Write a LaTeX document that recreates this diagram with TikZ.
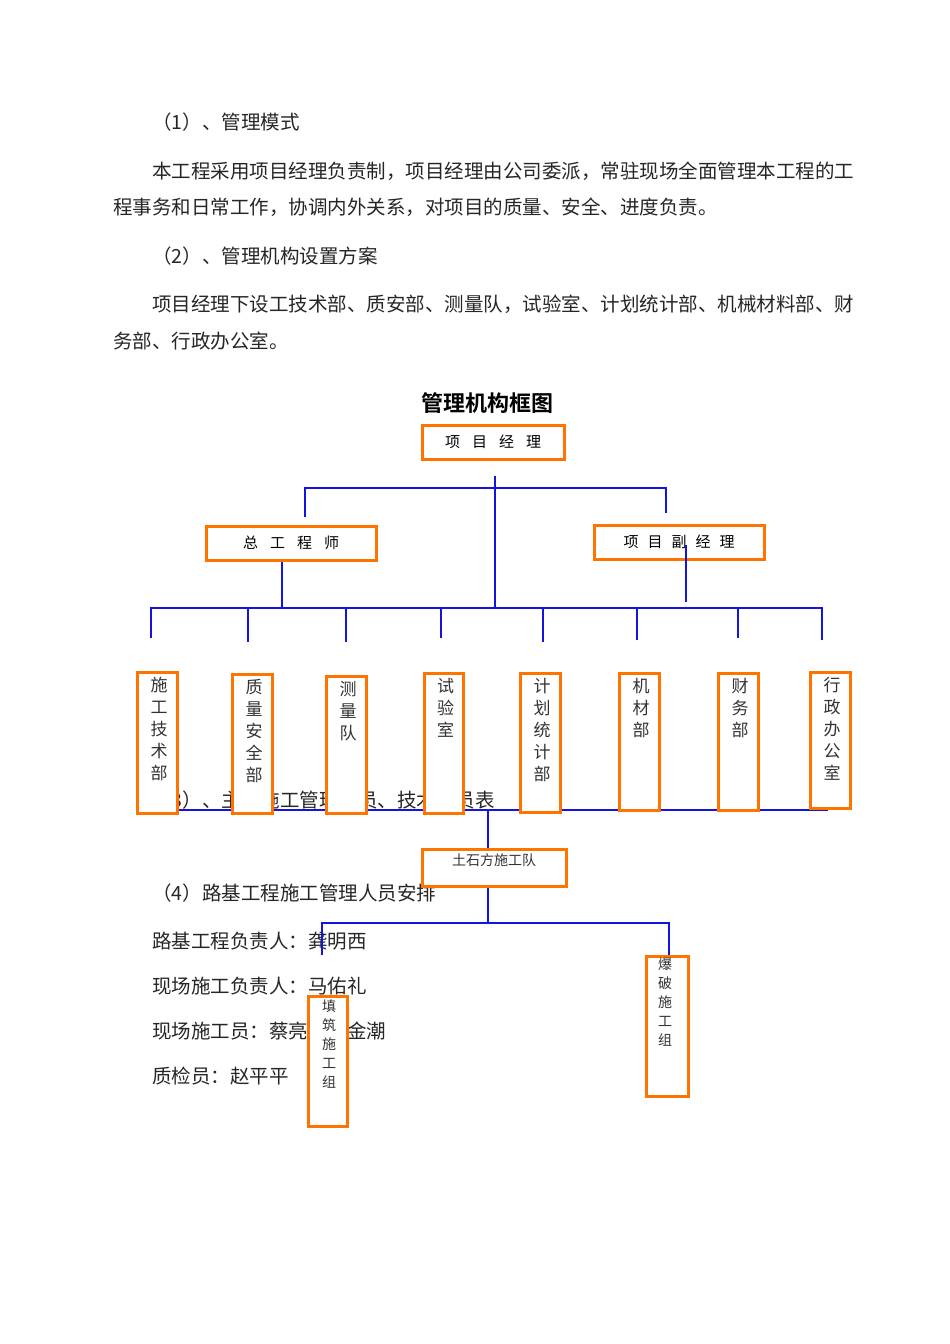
\documentclass[tikz,border=0pt]{standalone}
\usepackage{fontspec}
\setmainfont{Noto Sans CJK SC}
\newfontfamily\cjkb{Noto Sans CJK SC Bold}
\begin{document}
\begin{tikzpicture}[x=1pt,y=-1pt,
  body/.style={anchor=west,inner sep=0pt,font=\fontsize{19.5}{22}\selectfont,text=black!85},
  obox/.style={draw=orange!90!red,line width=3pt,fill=white,inner sep=0pt},
  vtext/.style={anchor=north,inner sep=0pt,align=center,font=\fontsize{17}{22}\selectfont,text=black!80},
  stext/.style={anchor=north,inner sep=0pt,align=center,font=\fontsize{14}{19}\selectfont,text=black!80},
  bl/.style={draw={rgb,255:red,20;green,20;blue,225},line width=2.3pt}]
\useasboundingbox (0,0) rectangle (950,1344);
\fill[white] (0,0) rectangle (950,1344);
% text
\node[body] (t1) at (152,122) {（1）、管理模式};
\node[body] (t2) at (152,171) {本工程采用项目经理负责制，项目经理由公司委派，常驻现场全面管理本工程的工};
\node[body] (t3) at (113,207) {程事务和日常工作，协调内外关系，对项目的质量、安全、进度负责。};
\node[body] (t4) at (152,256) {（2）、管理机构设置方案};
\node[body] (t5) at (152,304) {项目经理下设工技术部、质安部、测量队，试验室、计划统计部、机械材料部、财};
\node[body] (t6) at (113,341) {务部、行政办公室。};
\node[font=\cjkb\fontsize{22}{24}\selectfont] (title) at (487,403) {管理机构框图};
\node[body] (t7) at (152,800) {（3）、主要施工管理人员、技术人员表};
\node[body] (t8) at (152,893) {（4）路基工程施工管理人员安排};
\node[body] (t9) at (152,941) {路基工程负责人：龚明西};
\node[body] (t10) at (152,986) {现场施工负责人：马佑礼};
\node[body] (t11) at (152,1031) {现场施工员：蔡亮、林金潮};
\node[body] (t12) at (152,1076) {质检员：赵平平};
% coordinates
\coordinate (pm) at (495,476);
\coordinate (b1) at (305,488);
\coordinate (b2) at (666,488);
\coordinate (bus) at (495,608);
% top tree lines
\draw[bl] (pm) -- (bus);
\draw[bl] (305,517) -- (b1) -- (b2) -- (666,513);
\draw[bl] (282,560) -- (282,608);
\draw[bl] (151,638) -- (151,608) -- (822,608) -- (822,640);
\foreach \x/\y in {248/642,346/642,441/638,543/642,637/640,738/638}
  \draw[bl] (\x,608) -- (\x,\y);
\draw[bl] (177,810) -- (828,810);
\draw[bl] (488,810) -- (488,850);
\draw[bl] (488,887) -- (488,923);
\draw[bl] (322,955) -- (322,923) -- (669,923) -- (669,955);
% boxes
\node[obox,minimum width=142pt,minimum height=34pt,font=\fontsize{15}{16}\selectfont] (pmgr) at (493,442) {项\hspace{0.8em}目\hspace{0.8em}经\hspace{0.8em}理};
\node[obox,minimum width=170pt,minimum height=34pt,font=\fontsize{15}{16}\selectfont] (ce) at (291,543) {总\hspace{0.8em}工\hspace{0.8em}程\hspace{0.8em}师};
\node[obox,minimum width=170pt,minimum height=34pt,font=\fontsize{15}{16}\selectfont] (dpm) at (679,542) {项\hspace{0.6em}目\hspace{0.6em}副\hspace{0.6em}经\hspace{0.6em}理};
\draw[bl] (686,545) -- (686,602);
\foreach \n/\xa/\xb/\ya/\yb/\t in {
  d1/137/177/672/813/{施\\工\\技\\术\\部},
  d2/232/272/674/813/{质\\量\\安\\全\\部},
  d3/326/366/676/813/{测\\量\\队},
  d4/424/463/673/813/{试\\验\\室},
  d5/520/560/673/812/{计\\划\\统\\计\\部},
  d6/619/659/673/810/{机\\材\\部},
  d7/718/758/673/810/{财\\务\\部},
  d8/810/850/672/808/{行\\政\\办\\公\\室}}{
  \node[obox,minimum width={\xb-\xa},minimum height={\yb-\ya}] (\n) at ({(\xa+\xb)/2},{(\ya+\yb)/2}) {};
  \node[vtext] (\n t) at ({(\xa+\xb)/2+2},{\ya+5}) {\t};
}
\node[obox,minimum width=144pt,minimum height=37pt] (tsf) at (494,868) {};
\node[stext] (tsft) at (494,853) {土石方施工队};
\node[obox,minimum width=39pt,minimum height=130pt] (tz) at (327.5,1061) {};
\node[stext] (tzt) at (329,1000) {填\\筑\\施\\工\\组};
\node[obox,minimum width=42pt,minimum height=140pt] (bp) at (667,1026) {};
\node[stext] (bpt) at (665,958) {爆\\破\\施\\工\\组};
\end{tikzpicture}
\end{document}
